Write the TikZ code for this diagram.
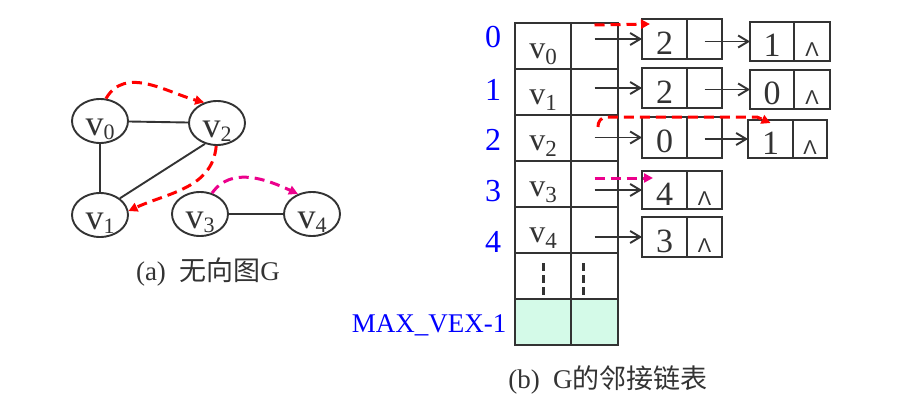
\documentclass[tikz,border=0pt]{standalone}
\usepackage{fontspec}
\setmainfont{Liberation Serif}
\newfontfamily\cjk{Noto Sans CJK SC}
\newfontfamily\symfont{Liberation Sans}
\usetikzlibrary{arrows.meta,positioning,calc,shapes.geometric}
\definecolor{linegray}{HTML}{333333}
\definecolor{lastfill}{HTML}{D4FAE8}
\newcommand{\gv}[1]{v\raisebox{-4pt}{\fontsize{22}{22}\selectfont #1}}
\newcommand{\tv}[1]{v\raisebox{-6pt}{\fontsize{23}{23}\selectfont #1}}
\newcommand{\nil}{{\symfont\fontsize{20}{20}\selectfont Λ}}

\begin{document}
\begin{tikzpicture}[x=1pt,y=-1pt,>=Stealth,
  vert/.style={draw=linegray,line width=1.9pt,ellipse,minimum width=56pt,minimum height=44pt,inner sep=0pt,
    text height=28pt,text depth=0pt,font=\fontsize{36}{36}\selectfont,text=linegray},
  edge/.style={linegray,line width=1.9pt},
  cell/.style={draw=linegray,line width=1.7pt,outer sep=0pt,inner sep=0pt,minimum height=46pt,text=linegray},
  headcell/.style={cell,minimum width=56pt,text height=24pt,text depth=0pt,font=\fontsize{32}{32}\selectfont},
  ptrcell/.style={cell,minimum width=47pt},
  datbox/.style={draw=linegray,line width=1.7pt,outer sep=0pt,inner sep=0pt,minimum width=45pt,minimum height=40pt,
    text height=30pt,text depth=0pt,font=\fontsize{34}{34}\selectfont,text=linegray},
  nextbox/.style={datbox,minimum width=35pt},
  idx/.style={text=blue,font=\fontsize{32}{32}\selectfont},
  ptr/.style={linegray,line width=1.9pt,-{Straight Barb[length=10pt,width=12pt]}},
  trace/.style={red,line width=3pt,dash pattern=on 10pt off 6pt,-{Triangle[length=9pt,width=9pt]}},
  trace2/.style={trace,magenta},
  more/.style={linegray,line width=3pt,dash pattern=on 8pt off 4pt},
  captext/.style={text=linegray,font=\fontsize{27}{27}\selectfont}]
  \useasboundingbox (0,0) rectangle (902,407);

  % undirected graph
  \node[vert] (v0) at (100,121) {\gv{0}};
  \node[vert] (v2) at (217,123) {\gv{2}};
  \node[vert] (v1) at (100,215) {\gv{1}};
  \node[vert] (v3) at (200,214) {\gv{3}};
  \node[vert] (v4) at (312,214) {\gv{4}};
  \draw[edge] (v0) -- (v2);
  \draw[edge] (v0) -- (v1);
  \draw[edge] (v2.240) -- (v1.40);
  \draw[edge] (v3) -- (v4);
  \draw[trace] (v0.75) to[out=60,in=165] (v2.122);
  \draw[trace] (v2.268) to[out=-95,in=25] (v1.8);
  \draw[trace2] (v3.60) to[out=55,in=155] (v4.125);
  \node[captext] (capa) at (208,272) {(a)\ \ {\cjk 无向图}G};

  % vertex table
  \node[headcell] (h0) at (543,46) {\tv{0}};
  \node[ptrcell] (p0) at (594.5,46) {};
  \node[headcell] (h1) at (543,92) {\tv{1}};
  \node[ptrcell] (p1) at (594.5,92) {};
  \node[headcell] (h2) at (543,138) {\tv{2}};
  \node[ptrcell] (p2) at (594.5,138) {};
  \node[headcell] (h3) at (543,184) {\tv{3}};
  \node[ptrcell] (p3) at (594.5,184) {};
  \node[headcell] (h4) at (543,230) {\tv{4}};
  \node[ptrcell] (p4) at (594.5,230) {};
  \node[headcell] (h5) at (543,276) {};
  \node[ptrcell] (p5) at (594.5,276) {};
  \node[headcell,fill=lastfill] (h6) at (543,322) {};
  \node[ptrcell,fill=lastfill] (p6) at (594.5,322) {};
  \draw[more] ([yshift=13pt]h5.center) -- ([yshift=-19pt]h5.center);
  \draw[more] ([xshift=-11.5pt,yshift=13pt]p5.center) -- ([xshift=-11.5pt,yshift=-19pt]p5.center);

  \node[idx] (i0) at (493,37) {0};
  \node[idx] (i1) at (493,90) {1};
  \node[idx] (i2) at (493,140) {2};
  \node[idx] (i3) at (493,191) {3};
  \node[idx] (i4) at (493,242) {4};
  \node[idx,anchor=east,font=\fontsize{27}{27}\selectfont] (imax) at (510,325) {MAX\_VEX-1};

  % edge lists
  \node[datbox] (a0d) at (664.5,39) {2};
  \node[nextbox,right=0pt of a0d] (a0p) {};
  \node[datbox,minimum width=44pt,minimum height=39pt] (b0d) at (772,41.5) {1};
  \node[nextbox,minimum width=36pt,minimum height=39pt,right=0pt of b0d] (b0p) {\nil};
  \node[datbox] (a1d) at (664.5,88) {2};
  \node[nextbox,right=0pt of a1d] (a1p) {};
  \node[datbox,minimum width=44pt,minimum height=39pt] (b1d) at (772,89.5) {0};
  \node[nextbox,minimum width=36pt,minimum height=39pt,right=0pt of b1d] (b1p) {\nil};
  \node[datbox,minimum height=41pt] (a2d) at (664.5,137.5) {0};
  \node[nextbox,minimum height=41pt,right=0pt of a2d] (a2p) {};
  \node[datbox,minimum height=38pt] (b2d) at (770.5,139) {1};
  \node[nextbox,minimum width=34pt,minimum height=38pt,right=0pt of b2d] (b2p) {\nil};
  \node[datbox,minimum height=38pt] (a3d) at (664.5,190) {4};
  \node[nextbox,minimum height=38pt,right=0pt of a3d] (a3p) {\nil};
  \node[datbox] (a4d) at (664.5,237) {3};
  \node[nextbox,right=0pt of a4d] (a4p) {\nil};

  \draw[ptr] (p0.center |- a0d.west) -- (a0d.west);
  \draw[ptr] (a0p.center |- b0d.west) -- (b0d.west);
  \draw[ptr] (p1.center |- a1d.west) -- (a1d.west);
  \draw[ptr] (a1p.center |- b1d.west) -- (b1d.west);
  \draw[ptr] (p2.center |- a2d.west) -- (a2d.west);
  \draw[ptr] (a2p.center |- b2d.west) -- (b2d.west);
  \draw[ptr] (p3.center |- a3d.west) -- (a3d.west);
  \draw[ptr] (p4.center |- a4d.west) -- (a4d.west);

  % traversal order
  \draw[trace] ([yshift=-2pt]p0.north) -- ([xshift=8pt,yshift=-5pt]a0d.north west);
  \coordinate (turn) at (757,117);
  \draw[trace] ([xshift=3.5pt,yshift=11pt]p2.center) to[out=95,in=180] ([xshift=12pt,yshift=21pt]p2.center)
    -- (turn) -- ([yshift=-3pt]b2d.north);
  \draw[trace2] ([yshift=6pt]p3.center) -- ([xshift=11pt,yshift=12pt]a3d.west);

  \node[captext] (capb) at (608,380) {(b)\ \ G{\cjk 的邻接链表}};
\end{tikzpicture}
\end{document}
